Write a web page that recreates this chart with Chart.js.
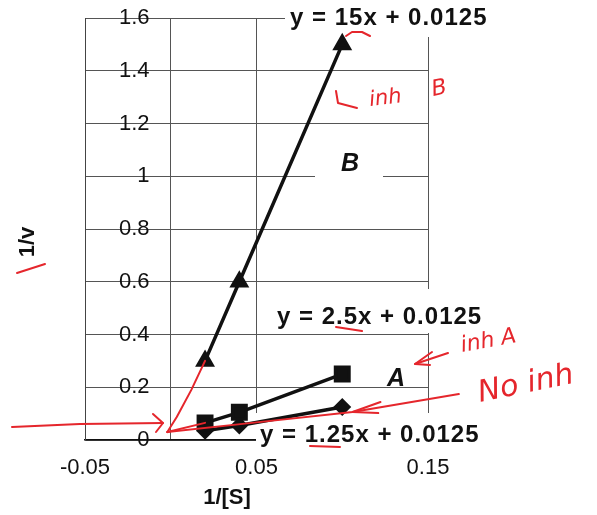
<!DOCTYPE html>
<html><head><meta charset="utf-8">
<script src="https://cdn.jsdelivr.net/npm/chart.js@4.4.1/dist/chart.umd.min.js"></script>
<style>html,body{margin:0;padding:0;background:#fff;}canvas{display:block;}</style>
</head><body>
<canvas id="c" width="597" height="515"></canvas>
<script>
// ---- data ----
const invS = [0.02, 0.04, 0.1];            // 1/[S]
const noInh = [0.035, 0.055, 0.125];       // 1/v, no inhibitor (diamonds)
const inhA = [0.065, 0.105, 0.25];         // 1/v, inhibitor A (squares)
const inhB = [0.3, 0.6, 1.5];              // 1/v, inhibitor B (triangles)
const xTickValues = [-0.05, 0, 0.05, 0.15];
const xTickLabels = ['-0.05', '', '0.05', '0.15'];
const yTickValues = [0, 0.2, 0.4, 0.6, 0.8, 1, 1.2, 1.4, 1.6];
const yTickLabels = ['0', '0.2', '0.4', '0.6', '0.8', '1', '1.2', '1.4', '1.6'];
const eqLabels = ['y = 15x + 0.0125', 'y = 2.5x + 0.0125', 'y = 1.25x + 0.0125'];
const seriesNames = ['B', 'A'];
const xTitle = '1/[S]';
const yTitle = '1/v';
// red handwritten extrapolations (data coordinates)
const redB = [[-0.002, 0.03], [0.0035, 0.087], [0.012, 0.19], [0.02, 0.3]];
const redA = [[-0.002, 0.03], [0.02, 0.065]];
const redNo = [[-0.002, 0.03], [0.046, 0.064], [0.106, 0.106], [0.168, 0.174]];
const redNoHead = [[0.1223, 0.144], [0.106, 0.106], [0.121, 0.102]];

const pts = ys => invS.map((x, i) => ({x, y: ys[i]}));
const RED = '#e5262c';
const FONT = '"Liberation Sans", Arial, sans-serif';

const annot = {
  id: 'annot',
  beforeDatasetsDraw(chart) {
    const ctx = chart.ctx;
    ctx.save();
    ctx.fillStyle = '#fff';
    // white label boxes (occlude gridlines like the original)
    ctx.fillRect(285, 0, 212, 37);
    ctx.fillRect(315, 140, 68, 46);
    ctx.fillRect(268, 289, 226, 44);
    ctx.fillRect(256, 413, 232, 40);
    ctx.fillStyle = '#111';
    ctx.textBaseline = 'middle';
    ctx.textAlign = 'left';
    ctx.font = 'bold 24px ' + FONT;
    if ('letterSpacing' in ctx) ctx.letterSpacing = '1px';
    ctx.fillText(eqLabels[0], 290, 18);
    ctx.fillText(eqLabels[1], 277, 317);
    ctx.fillText(eqLabels[2], 260, 435);
    if ('letterSpacing' in ctx) ctx.letterSpacing = '0px';
    ctx.textAlign = 'center';
    ctx.font = 'italic bold 25px ' + FONT;
    ctx.fillText(seriesNames[0], 350, 164);
    ctx.fillText(seriesNames[1], 396, 379);
    // axis titles
    ctx.font = 'bold 22px ' + FONT;
    ctx.fillText(xTitle, 227, 498);
    ctx.save();
    ctx.translate(28, 242);
    ctx.rotate(-Math.PI / 2);
    ctx.fillText(yTitle, 0, 0);
    ctx.restore();
    ctx.restore();
  },
  afterDraw(chart) {
    const {ctx, scales: {x, y}} = chart;
    const poly = (arr, data) => {
      ctx.beginPath();
      arr.forEach((p, i) => {
        const px = data ? x.getPixelForValue(p[0]) : p[0];
        const py = data ? y.getPixelForValue(p[1]) : p[1];
        i ? ctx.lineTo(px, py) : ctx.moveTo(px, py);
      });
      ctx.stroke();
    };
    ctx.save();
    ctx.strokeStyle = RED;
    ctx.fillStyle = RED;
    ctx.lineWidth = 2;
    ctx.lineCap = 'round';
    ctx.lineJoin = 'round';
    poly(redB, true);
    poly(redA, true);
    poly(redNo, true);
    poly(redNoHead, true);
    // left arrow
    poly([[12, 427], [80, 424], [163, 423]]);
    poly([[153, 414], [163, 423], [156, 432]]);
    // marks
    poly([[17, 273], [45, 264]]);
    poly([[346, 36], [352, 32], [362, 32], [370, 36]]);
    poly([[336, 327], [362, 331]]);
    poly([[310, 446], [340, 447]]);
    poly([[336, 91], [338, 103], [357, 108]]);
    // inh A arrow
    poly([[448, 353], [415, 364]]);
    poly([[432, 352], [415, 364], [430, 365]]);
    // handwriting
    const txt = (s, px, py, rot, size) => {
      ctx.save();
      ctx.translate(px, py);
      ctx.rotate(rot);
      ctx.font = 'italic ' + size + 'px "DejaVu Sans", sans-serif';
      ctx.textBaseline = 'alphabetic';
      ctx.textAlign = 'left';
      ctx.fillText(s, 0, 0);
      ctx.restore();
    };
    txt('inh', 370, 106, -0.12, 21);
    txt('B', 433, 96, -0.2, 22);
    txt('inh A', 462, 352, -0.18, 22);
    txt('No inh', 480, 402, -0.2, 30);
    ctx.restore();
  }
};

new Chart(document.getElementById('c'), {
  type: 'scatter',
  data: {
    datasets: [
      {data: pts(inhB), showLine: true, borderColor: '#111', backgroundColor: '#111', borderWidth: 3.5,
       pointStyle: 'triangle', pointRadius: 8},
      {data: pts(inhA), showLine: true, borderColor: '#111', backgroundColor: '#111', borderWidth: 3.5,
       pointStyle: 'rect', pointRadius: 9.5},
      {data: pts(noInh), showLine: true, borderColor: '#111', backgroundColor: '#111', borderWidth: 3.5,
       pointStyle: 'rectRot', pointRadius: 6.5}
    ]
  },
  options: {
    responsive: false,
    animation: false,
    layout: {padding: {left: 85, right: 169, top: 18, bottom: 35}},
    plugins: {legend: {display: false}, tooltip: {enabled: false}},
    scales: {
      x: {
        type: 'linear', min: -0.05, max: 0.15,
        afterBuildTicks: s => { s.ticks = xTickValues.map(v => ({value: v})); },
        afterFit: s => { s.height = 40; s.paddingLeft = 0; s.paddingRight = 0; },
        grid: {color: '#555', lineWidth: 1, drawTicks: false},
        border: {color: '#111', width: 1.5},
        ticks: {padding: 15, color: '#111', font: {family: FONT, size: 22},
                callback: (v, i) => xTickLabels[i], maxRotation: 0, autoSkip: false}
      },
      y: {
        type: 'linear', min: 0, max: 1.6, position: 'left',
        afterBuildTicks: s => { s.ticks = yTickValues.map(v => ({value: v})); },
        afterFit: s => { s.width = 0; s.paddingTop = 0; s.paddingBottom = 0; },
        grid: {color: '#555', lineWidth: 1, drawTicks: false},
        border: {color: '#444', width: 1},
        ticks: {mirror: true, crossAlign: 'far', padding: 34, color: '#111', font: {family: FONT, size: 22},
                callback: (v, i) => yTickLabels[i], autoSkip: false}
      }
    }
  },
  plugins: [annot]
});
</script>
</body></html>
